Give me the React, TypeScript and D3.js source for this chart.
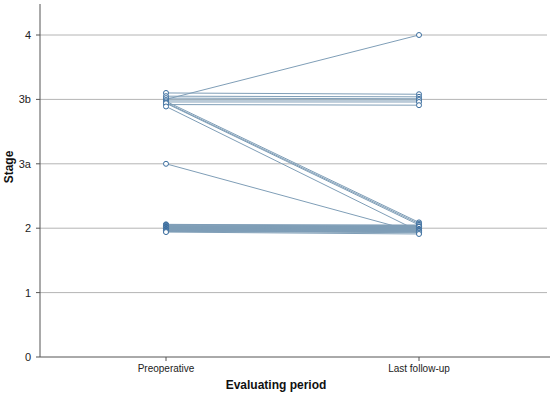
import React from "react";
import * as d3 from "d3";

const stageLabels = ["0", "1", "2", "3a", "3b", "4"];
const periods = ["Preoperative", "Last follow-up"];

// Stage position per patient (index into stageLabels, with the small stacking offsets seen in the picture)
const preStage = [
  4.0,
  4.1, 4.05, 4.02, 3.99, 3.96, 3.92,
  3.97, 3.95, 3.94, 3.89,
  3.0,
  2.06, 2.05, 2.05, 2.04, 2.03, 2.03, 2.02, 2.02, 2.01, 2.01, 2.0, 2.0,
  2.0, 1.99, 1.99, 1.98, 1.98, 1.97, 1.97, 1.96, 1.96, 1.95, 1.95, 1.94,
];
const postStage = [
  5.0,
  4.08, 4.04, 4.01, 3.99, 3.96, 3.91,
  2.09, 2.07, 2.05, 1.95,
  1.93,
  2.04, 2.03, 2.05, 2.02, 2.03, 2.01, 2.02, 2.0, 2.01, 1.99, 2.0, 2.02,
  1.98, 1.99, 1.97, 1.98, 1.96, 1.97, 1.95, 1.96, 1.94, 1.95, 1.93, 1.91,
];

const W = 550;
const H = 397;
const left = 40;
const right = 547;
const bottom = 357;
const top = 35;

export default function App() {
  const y = d3.scaleLinear().domain([0, 5]).range([bottom, top]);
  const x = d3.scalePoint<string>().domain(periods).range([166, 419]);
  const line = d3
    .line<[number, number]>()
    .x((d) => d[0])
    .y((d) => d[1]);
  const font = "Liberation Sans, Arial, sans-serif";
  const pre = x(periods[0])!;
  const post = x(periods[1])!;

  return (
    <svg
      width={W}
      height={H}
      style={{ position: "absolute", left: 0, top: 0, background: "#fff" }}
      fontFamily={font}
    >
      {/* gridlines */}
      {stageLabels.map((s, i) =>
        i === 0 ? null : (
          <line key={s} x1={left} x2={right} y1={y(i)} y2={y(i)} stroke="#b4b4b4" strokeWidth={1} />
        )
      )}
      {/* y tick labels and ticks */}
      {stageLabels.map((s, i) => (
        <g key={"t" + s}>
          <line x1={left - 4} x2={left} y1={y(i)} y2={y(i)} stroke="#555" />
          <text x={31} y={y(i) + 4} fontSize={11} textAnchor="end" fill="#222">
            {s}
          </text>
        </g>
      ))}
      {/* axes */}
      <line x1={left} x2={left} y1={4} y2={bottom} stroke="#555" strokeWidth={1} />
      <line x1={left} x2={W} y1={bottom} y2={bottom} stroke="#555" strokeWidth={1} />
      {periods.map((p) => (
        <g key={p}>
          <line x1={x(p)} x2={x(p)} y1={bottom} y2={bottom + 4} stroke="#555" />
          <text x={x(p)} y={bottom + 15} fontSize={10} textAnchor="middle" fill="#222">
            {p}
          </text>
        </g>
      ))}
      {/* titles */}
      <text x={276} y={389} fontSize={12} fontWeight="bold" textAnchor="middle" fill="#111">
        Evaluating period
      </text>
      <text
        transform="translate(13,167) rotate(-90)"
        fontSize={12}
        fontWeight="bold"
        textAnchor="middle"
        fill="#111"
      >
        Stage
      </text>
      {/* patient lines */}
      {preStage.map((v, i) => (
        <path
          key={"l" + i}
          d={line([
            [pre, y(v)],
            [post, y(postStage[i])],
          ])!}
          stroke="#7f9eb7"
          strokeWidth={1}
          fill="none"
        />
      ))}
      {/* markers */}
      {preStage.map((v, i) => (
        <circle key={"a" + i} cx={pre} cy={y(v)} r={2.5} fill="#fff" stroke="#3a6d9e" strokeWidth={1} />
      ))}
      {postStage.map((v, i) => (
        <circle key={"b" + i} cx={post} cy={y(v)} r={2.5} fill="#fff" stroke="#3a6d9e" strokeWidth={1} />
      ))}
    </svg>
  );
}
